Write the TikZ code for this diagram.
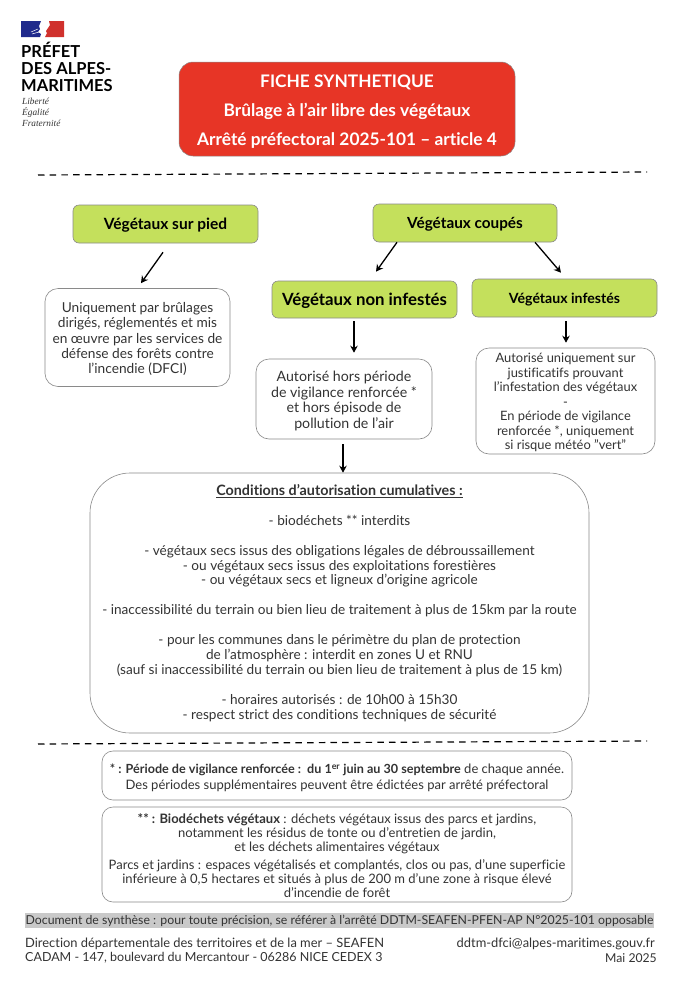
\documentclass[tikz,border=0pt]{standalone}
\usepackage{fontspec}
\setmainfont{Lato}[Ligatures={NoCommon,TeX}]
\newfontfamily\devise{Liberation Serif}
\definecolor{rouge}{HTML}{E73526}
\definecolor{vert}{HTML}{C4E05C}
\definecolor{encre}{HTML}{333333}
\definecolor{bord}{HTML}{8A8A8A}
\definecolor{bleuF}{HTML}{1F2A8C}
\definecolor{rougeF}{HTML}{D0312D}
\definecolor{bande}{HTML}{C9C9C9}
\newcommand{\fs}[2]{\fontsize{#1}{#2}\selectfont}
\usetikzlibrary{arrows.meta}
\tikzset{
  x=1pt,y=-1pt,
  base/.style={inner sep=0pt,align=center,text=encre},
  titre/.style={base,draw=bord,line width=0.5pt,fill=rouge,rounded corners=14pt,text=white,font=\fs{17.3}{29}\bfseries},
  verte/.style={base,draw=bord,line width=0.6pt,fill=vert,rounded corners=6pt,text=black,text height=14.5pt,text depth=3pt},
  blanche/.style={base,draw=bord,line width=0.6pt,fill=white,rounded corners=13pt},
  note/.style={base,draw=bord,line width=0.6pt,fill=white,rounded corners=11pt},
  arr/.style={draw=black,line width=1.3pt,-{Stealth[length=7pt,width=7.5pt]}},
  tiret/.style={draw=black,line width=1.2pt,dash pattern=on 6.5pt off 5.2pt},
  pied/.style={inner sep=0pt,text=encre},
}
\begin{document}
\begin{tikzpicture}
\useasboundingbox (0,0) rectangle (696,986);
\fill[white] (0,0) rectangle (696,986);
% Logo
\fill[bleuF] (21,21) -- (41,21) -- (39,26) -- (40,29) -- (38,32) -- (41,34) -- (40,37) -- (21,37) -- cycle;
\fill[rougeF] (64,21) -- (49,21) -- (50,25) -- (48,28) -- (46,31) -- (47,33) -- (45,37) -- (64,37) -- cycle;
\draw[white,line width=0.5pt] (31,32) -- (38,29) (32,34) -- (39,32);
\node[inner sep=0pt,anchor=west,text=black,font=\fs{16.5}{17}\bfseries,align=left] (prefet) at (21,66.5) {PRÉFET\\DES ALPES-\\MARITIMES};
\node[inner sep=0pt,anchor=west,text=encre,font=\devise\itshape\fs{9.3}{10.8},align=left] (devise) at (22,112.5) {Liberté\\Égalité\\Fraternité};
% Titre
\node[titre,minimum width=336pt,minimum height=94pt] (titre) at (347,109) {\rule{0pt}{17pt}FICHE SYNTHETIQUE\\Brûlage à l’air libre des végétaux\\Arrêté préfectoral 2025-101 – article 4};
% Lignes
\coordinate (ha) at (38,175); \coordinate (hb) at (647,172);
\coordinate (ba) at (38,744); \coordinate (bb) at (647,741);
\draw[tiret] (ha) -- (hb);
\draw[tiret] (ba) -- (bb);
% Vertes
\node[verte,minimum width=185pt,minimum height=38pt,font=\fs{15.5}{17}\bfseries] (pied) at (165.5,224) {Végétaux sur pied};
\node[verte,minimum width=184pt,minimum height=38pt,font=\fs{15.3}{17}\bfseries] (coupes) at (465,223) {Végétaux coupés};
\node[verte,minimum width=185pt,minimum height=37pt,font=\fs{16.8}{18}\bfseries] (noninf) at (364.5,299.5) {Végétaux non infestés};
\node[verte,minimum width=185pt,minimum height=38pt,font=\fs{14.1}{16}\bfseries] (inf) at (564.5,298) {Végétaux infestés};
% Blanches
\node[blanche,minimum width=185pt,minimum height=98pt,font=\fs{13.7}{15.3}] (brul) at (137.5,337.5) {\rule{0pt}{13pt}Uniquement par brûlages\\dirigés, réglementés et mis\\en œuvre par les services de\\défense des forêts contre\\l’incendie (DFCI)};
\node[blanche,minimum width=176pt,minimum height=80pt,font=\fs{14.2}{15.8}] (hors) at (344,399) {\rule{0pt}{14.5pt}Autorisé hors période\\de vigilance renforcée *\\et hors épisode de\\pollution de l’air};
\node[blanche,minimum width=179pt,minimum height=106pt,font=\fs{12.9}{14.5}] (just) at (565.5,401) {\rule{0pt}{12.5pt}Autorisé uniquement sur\\justificatifs prouvant\\l’infestation des végétaux\\-\\En période de vigilance\\renforcée *, uniquement\\si risque météo "vert"};
% Principal
\node[blanche,rounded corners=40pt,minimum width=499pt,minimum height=260pt,font=\fs{13.6}{14.9}] (cond) at (339.5,603) {\rule{0pt}{11pt}{\fs{14.3}{14.9}\bfseries\underline{Conditions d’autorisation cumulatives :}}\\[15pt]
- biodéchets ** interdits\\[15pt]
- végétaux secs issus des obligations légales de débroussaillement\\
- ou végétaux secs issus des exploitations forestières\\
- ou végétaux secs et ligneux d’origine agricole\\[15pt]
- inaccessibilité du terrain ou bien lieu de traitement à plus de 15km par la route\\[15pt]
- pour les communes dans le périmètre du plan de protection\\
de l’atmosphère : interdit en zones U et RNU\\
(sauf si inaccessibilité du terrain ou bien lieu de traitement à plus de 15 km)\\[15pt]
- horaires autorisés : de 10h00 à 15h30\\
- respect strict des conditions techniques de sécurité};
% Notes
\node[note,minimum width=470pt,minimum height=49pt,font=\fs{13}{15.5}] (vigil) at (337,775.5) {\rule{0pt}{14pt}{\fs{12.6}{15.5}\bfseries * : Période de vigilance renforcée :~~du 1\textsuperscript{er} juin au 30 septembre} de chaque année.\\Des périodes supplémentaires peuvent être édictées par arrêté préfectoral};
\node[note,minimum width=470pt,minimum height=95pt,font=\fs{13}{14.3}] (bio) at (337,854.5) {\rule{0pt}{12pt}{\bfseries ** : Biodéchets végétaux} : déchets végétaux issus des parcs et jardins,\\notamment les résidus de tonte ou d’entretien de jardin,\\et les déchets alimentaires végétaux\\[3pt]Parcs et jardins : espaces végétalisés et complantés, clos ou pas, d’une superficie\\inférieure à 0,5 hectares et situés à plus de 200 m d’une zone à risque élevé\\d’incendie de forêt};
% Pied de page
\node[inner sep=0pt,fill=bande,text=encre,minimum width=629pt,minimum height=15pt,font=\fs{12.3}{14}] (synth) at (339.5,920.5) {Document de synthèse : pour toute précision, se référer à l’arrêté DDTM-SEAFEN-PFEN-AP N°2025-101 opposable};
\node[pied,anchor=west,font=\fs{12.9}{14}] (dir) at (25,944) {Direction départementale des territoires et de la mer – SEAFEN};
\node[pied,anchor=west,font=\fs{12.5}{14}] (cadam) at (25,958) {CADAM - 147, boulevard du Mercantour - 06286 NICE CEDEX 3};
\node[pied,anchor=east,font=\fs{12.9}{14}] (mail) at (655,944) {ddtm-dfci@alpes-maritimes.gouv.fr};
\node[pied,anchor=east,font=\fs{12.2}{14}] (mai) at (657,958) {Mai 2025};
% Fleches
\draw[arr] ([xshift=-2.5pt,yshift=-9pt]pied.south) -- ([xshift=3.5pt,yshift=5pt]brul.north);
\draw[arr] ([xshift=-68pt]coupes.south) -- ([xshift=11.5pt,yshift=9pt]noninf.north);
\draw[arr] ([xshift=70pt]coupes.south) -- ([xshift=-3.5pt,yshift=6pt]inf.north);
\draw[arr] ([xshift=-10.5pt,yshift=-3pt]noninf.south) -- ([xshift=10pt,yshift=6pt]hors.north);
\draw[arr] ([xshift=1.5pt,yshift=-4pt]inf.south) -- ([xshift=0.5pt,yshift=5pt]just.north);
\draw[arr] ([xshift=-1pt,yshift=-5pt]hors.south) -- ([xshift=3.5pt]cond.north);
\end{tikzpicture}
\end{document}
